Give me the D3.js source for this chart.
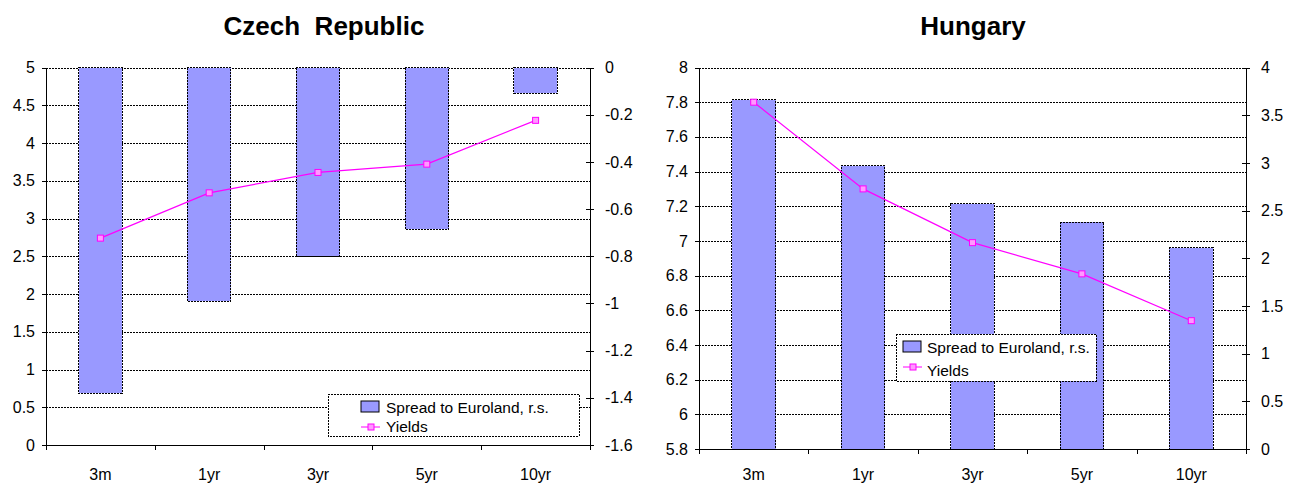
<!DOCTYPE html>
<html>
<head>
<meta charset="utf-8">
<script src="https://cdn.jsdelivr.net/npm/d3@7"></script>
<style>
  body { margin: 0; background: #fff; }
  text { font-family: "Liberation Sans", Arial, sans-serif; fill: #000; }
</style>
</head>
<body>
<script>
//categories shared by both charts
const categories = ['3m', '1yr', '3yr', '5yr', '10yr']

//czech republic values
const czechYields = [2.74, 3.34, 3.61, 3.72, 4.30]
const czechSpread = [-1.38, -0.99, -0.80, -0.685, -0.11]
const czechLeftTicks = [0, 0.5, 1, 1.5, 2, 2.5, 3, 3.5, 4, 4.5, 5]
const czechRightTicks = [0, -0.2, -0.4, -0.6, -0.8, -1, -1.2, -1.4, -1.6]

//hungary values
const hungaryYields = [7.80, 7.30, 6.99, 6.81, 6.54]
const hungarySpread = [3.66, 2.97, 2.57, 2.38, 2.11]
const hungaryLeftTicks = [5.8, 6, 6.2, 6.4, 6.6, 6.8, 7, 7.2, 7.4, 7.6, 7.8, 8]
const hungaryRightTicks = [0, 0.5, 1, 1.5, 2, 2.5, 3, 3.5, 4]

const legendLabels = ['Spread to Euroland, r.s.', 'Yields']

const svg = d3.select('body')
  .append('svg')
  .attr('width', 1295)
  .attr('height', 485)

//draw one chart
function render(opt) {
  const g = svg.append('g')

  //scales
  const xBand = d3.scaleBand()
    .domain(categories)
    .range([opt.left, opt.right])
  const xEdge = d3.scaleLinear()
    .domain([0, categories.length])
    .range([opt.left, opt.right])
  const yLeft = d3.scaleLinear()
    .domain(d3.extent(opt.leftTicks))
    .range([opt.bottom, opt.top])
  const yRight = d3.scaleLinear()
    .domain(d3.extent(opt.rightTicks))
    .range([opt.bottom, opt.top])
  //czech spread axis runs from 0 at the top down to the minimum
  if (opt.rightInverted) yRight.range([opt.top, opt.bottom]).domain([0, d3.min(opt.rightTicks)])

  const innerWidth = opt.right - opt.left
  const barWidth = xBand.bandwidth() * 0.4

  //title
  g.append('text')
    .text(opt.title)
    .attr('x', opt.titleX)
    .attr('y', 35)
    .attr('text-anchor', 'middle')
    .style('white-space', 'pre')
    .style('font-size', '26px')
    .style('font-weight', 'bold')

  //gridlines from the left axis
  g.append('g')
    .attr('transform', `translate(${opt.left},0)`)
    .call(d3.axisLeft(yLeft).tickValues(opt.leftTicks).tickSize(-innerWidth).tickFormat(''))
    .call(a => a.select('.domain').remove())
    .selectAll('line')
      .attr('stroke', '#000')
      .attr('stroke-dasharray', '2,1')
      .attr('shape-rendering', 'crispEdges')

  //bars for spread
  g.selectAll('rect.bar')
    .data(opt.spread)
    .enter()
    .append('rect')
      .attr('class', 'bar')
      .attr('x', (d, i) => xBand(categories[i]) + (xBand.bandwidth() - barWidth) / 2)
      .attr('y', d => Math.min(yRight(0), yRight(d)))
      .attr('width', barWidth)
      .attr('height', d => Math.abs(yRight(0) - yRight(d)))
      .attr('fill', '#9999ff')
      .attr('stroke', '#000')
      .attr('stroke-dasharray', '2,1')
      .attr('shape-rendering', 'crispEdges')

  //left axis
  g.append('g')
    .attr('transform', `translate(${opt.left},0)`)
    .call(d3.axisLeft(yLeft).tickValues(opt.leftTicks).tickSize(4).tickPadding(7).tickFormat(d => String(d)))
    .call(a => a.selectAll('text').style('font-size', '16px'))
    .call(a => a.selectAll('line, path').attr('stroke', '#000').attr('shape-rendering', 'crispEdges'))

  //right axis with crossing ticks
  const right = g.append('g')
    .attr('transform', `translate(${opt.right},0)`)
    .call(d3.axisRight(yRight).tickValues(opt.rightTicks).tickSize(4).tickSizeOuter(0).tickPadding(11).tickFormat(d => String(d)))
  right.selectAll('text').style('font-size', '16px')
  right.selectAll('.tick line').attr('x1', -4).attr('stroke', '#000').attr('shape-rendering', 'crispEdges')
  right.select('.domain').attr('stroke', '#000').attr('shape-rendering', 'crispEdges')

  //bottom axis with ticks at category edges
  g.append('g')
    .attr('transform', `translate(0,${opt.bottom})`)
    .call(d3.axisBottom(xEdge).tickValues(d3.range(categories.length + 1)).tickSize(5).tickSizeOuter(0).tickFormat(''))
    .selectAll('line, path')
      .attr('stroke', '#000')
      .attr('shape-rendering', 'crispEdges')

  //category labels
  g.selectAll('text.cat')
    .data(categories)
    .enter()
    .append('text')
      .attr('class', 'cat')
      .text(d => d)
      .attr('x', d => xBand(d) + xBand.bandwidth() / 2)
      .attr('y', Math.min(opt.bottom + 35, 480))
      .attr('text-anchor', 'middle')
      .style('font-size', '16px')

  //yields line
  const line = d3.line()
    .x((d, i) => xBand(categories[i]) + xBand.bandwidth() / 2)
    .y(d => yLeft(d))
  g.append('path')
    .datum(opt.yields)
    .attr('d', line)
    .attr('fill', 'none')
    .attr('stroke', '#ff00ff')
    .attr('stroke-width', 1.2)

  g.selectAll('rect.marker')
    .data(opt.yields)
    .enter()
    .append('rect')
      .attr('class', 'marker')
      .attr('x', (d, i) => xBand(categories[i]) + xBand.bandwidth() / 2 - 3)
      .attr('y', d => yLeft(d) - 3)
      .attr('width', 6)
      .attr('height', 6)
      .attr('fill', '#ff99ff')
      .attr('stroke', '#ff00ff')

  //legend
  const L = opt.legend
  const lg = g.append('g')
  lg.append('rect')
    .attr('x', L.x)
    .attr('y', L.y)
    .attr('width', L.w)
    .attr('height', L.h)
    .attr('fill', '#fff')
    .attr('stroke', '#000')
    .attr('stroke-dasharray', '2,1')
    .attr('shape-rendering', 'crispEdges')
  lg.append('rect')
    .attr('x', L.sx)
    .attr('y', L.y + 7)
    .attr('width', 18)
    .attr('height', 11)
    .attr('fill', '#9999ff')
    .attr('stroke', '#000')
  lg.append('line')
    .attr('x1', L.sx)
    .attr('x2', L.sx + 19)
    .attr('y1', L.y + 33)
    .attr('y2', L.y + 33)
    .attr('stroke', '#ff00ff')
  lg.append('rect')
    .attr('x', L.sx + 7)
    .attr('y', L.y + 30)
    .attr('width', 6)
    .attr('height', 6)
    .attr('fill', '#ff99ff')
    .attr('stroke', '#ff00ff')
  lg.selectAll('text.leg')
    .data(legendLabels)
    .enter()
    .append('text')
      .attr('class', 'leg')
      .text(d => d)
      .attr('x', L.tx)
      .attr('y', (d, i) => L.y + 19 + i * L.gap)
      .style('font-size', '15.5px')
}

render({
  title: 'Czech  Republic', titleX: 324,
  left: 46, right: 590, top: 67.5, bottom: 445,
  leftTicks: czechLeftTicks, rightTicks: czechRightTicks, rightInverted: true,
  yields: czechYields, spread: czechSpread,
  legend: { x: 328, y: 394, w: 251, h: 42, sx: 361, tx: 386, gap: 19 }
})

render({
  title: 'Hungary', titleX: 973,
  left: 699, right: 1246, top: 67.5, bottom: 449,
  leftTicks: hungaryLeftTicks, rightTicks: hungaryRightTicks, rightInverted: false,
  yields: hungaryYields, spread: hungarySpread,
  legend: { x: 896, y: 334, w: 200, h: 47, sx: 903, tx: 927, gap: 23 }
})
</script>
</body>
</html>
